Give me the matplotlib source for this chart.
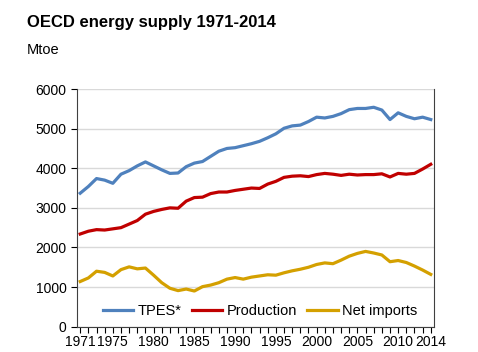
import matplotlib.pyplot as plt
from matplotlib.ticker import MultipleLocator

anos = list(range(1971, 2015))

tpes = [3370, 3540, 3740, 3700, 3620, 3850, 3940, 4060, 4160, 4060,
        3960, 3870, 3880, 4040, 4130, 4170, 4300, 4430, 4500, 4520,
        4570, 4620, 4680, 4770, 4870, 5010, 5070, 5090, 5180, 5290,
        5270, 5310, 5380, 5480, 5510, 5510, 5540, 5470, 5230, 5400,
        5310, 5250, 5290, 5230]

producao = [2340, 2410, 2450, 2440, 2470, 2500, 2590, 2680, 2840, 2910,
            2960, 3000, 2990, 3170, 3260, 3270, 3360, 3400, 3400, 3440,
            3470, 3500, 3490, 3600, 3670, 3770, 3800, 3810, 3790, 3840,
            3870, 3850, 3820, 3850, 3830, 3840, 3840, 3860, 3780, 3870,
            3850, 3870, 3980, 4100]

importacoes = [1140, 1230, 1400, 1370, 1280, 1440, 1510, 1460, 1480, 1300,
               1110, 970, 910, 950, 900, 1010, 1050, 1110, 1200, 1240,
               1200, 1250, 1280, 1310, 1300, 1360, 1410, 1450, 1500, 1570,
               1610, 1590, 1680, 1780, 1850, 1900, 1860, 1810, 1640, 1670,
               1620, 1530, 1430, 1320]

rotulos_x = [1971, 1975, 1980, 1985, 1990, 1995, 2000, 2005, 2010, 2014]

plt.rcParams["font.family"] = ["Liberation Sans", "DejaVu Sans"]

fig = plt.figure(figsize=(4.78, 3.52), dpi=100)
ax = fig.add_axes([0.161, 0.072, 0.747, 0.675])

ax.plot(anos, tpes, color="#4F81BD", lw=2.3, label="TPES*")
ax.plot(anos, producao, color="#C00000", lw=2.3, label="Production")
ax.plot(anos, importacoes, color="#D4A000", lw=2.3, label="Net imports")

ax.set_xlim(1970.6, 2014.4)
ax.set_ylim(0, 6000)
ax.set_yticks(range(0, 6001, 1000))
ax.set_xticks(rotulos_x)
ax.xaxis.set_minor_locator(MultipleLocator(1))
ax.tick_params(axis="both", labelsize=10, length=4, width=0.8, direction="out")
ax.tick_params(axis="x", which="minor", length=4, width=0.8)
ax.tick_params(axis="x", pad=2)

ax.grid(axis="y", color="#D9D9D9", lw=1)
ax.set_axisbelow(True)
ax.spines["top"].set_visible(False)
for s in ["left", "bottom", "right"]:
    ax.spines[s].set_color("#404040")
    ax.spines[s].set_linewidth(0.8)

ax.legend(loc="lower center", bbox_to_anchor=(0.513, -0.02), ncol=3, frameon=False,
          fontsize=10.5, handlelength=2.1, columnspacing=0.7, handletextpad=0.3)

fig.text(27 / 478, 1 - 22 / 352, "OECD energy supply 1971-2014", fontsize=12,
         fontweight="bold", va="center", ha="left")
fig.text(27 / 478, 1 - 50 / 352, "Mtoe", fontsize=10.5, va="center", ha="left")

plt.savefig("out.png", dpi=100)
plt.close(fig)
